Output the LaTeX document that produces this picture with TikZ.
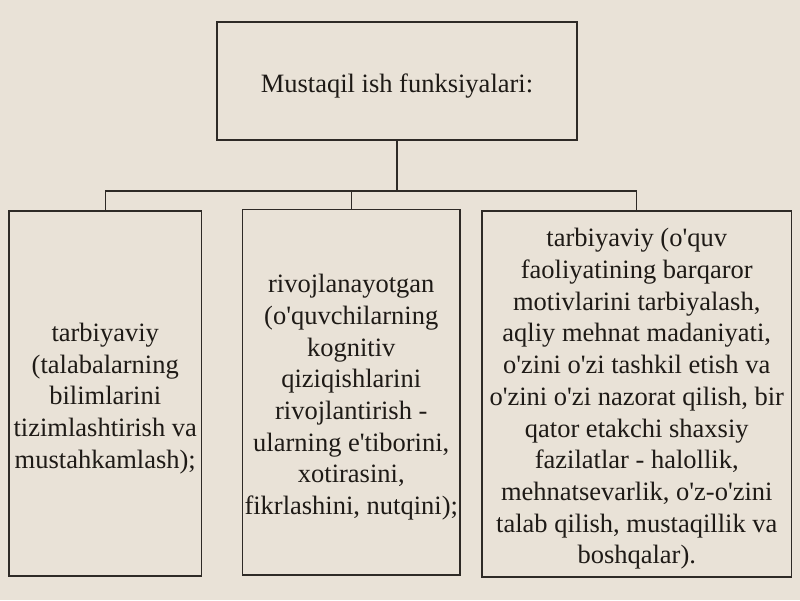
\documentclass[tikz,border=0pt]{standalone}
\usepackage{fontspec}
\setmainfont{Liberation Serif}
\newcommand\aq{\textquotesingle}
\definecolor{bg}{HTML}{E9E2D7}
\definecolor{ln}{HTML}{2E2A26}
\definecolor{tx}{HTML}{1E1A16}
\begin{document}
\begin{tikzpicture}[x=1pt,y=-1pt,
  box/.style={draw=ln, line width=1.2pt, inner sep=0pt},
  txt/.style={inner sep=0pt, align=center, text=tx, yshift=-5pt,
    font=\fontsize{26.5}{31.7}\selectfont},
  conn/.style={draw=ln, line width=1.2pt}]
\fill[bg] (0,0) rectangle (800,600);
\useasboundingbox (0,0) rectangle (800,600);
\node[box, minimum width=360pt, minimum height=118pt] (top) at (397,81) {};
\node[box, minimum width=192.5pt, minimum height=365pt] (left) at (105.25,393.5) {};
\node[box, minimum width=217.5pt, minimum height=365.5pt] (mid) at (351.25,392.25) {};
\node[box, minimum width=309.5pt, minimum height=366pt] (right) at (636.75,394) {};
\node[txt] (toptext) at (top.center) {Mustaqil ish funksiyalari:};
\node[txt] (lefttext) at (left.center)
  {tarbiyaviy\\(talabalarning\\bilimlarini\\tizimlashtirish va\\mustahkamlash);};
\node[txt] (midtext) at (mid.center)
  {rivojlanayotgan\\(o\aq quvchilarning\\kognitiv\\qiziqishlarini\\rivojlantirish -\\ularning e\aq tiborini,\\xotirasini,\\fikrlashini, nutqini);};
\node[txt] (righttext) at (right.center)
  {tarbiyaviy (o\aq quv\\faoliyatining barqaror\\motivlarini tarbiyalash,\\aqliy mehnat madaniyati,\\o\aq zini o\aq zi tashkil etish va\\o\aq zini o\aq zi nazorat qilish, bir\\qator etakchi shaxsiy\\fazilatlar - halollik,\\mehnatsevarlik, o\aq z-o\aq zini\\talab qilish, mustaqillik va\\boshqalar).};
\coordinate (j) at (397,191);
\draw[conn] (top.south) -- (j);
\draw[conn] (left.north) |- (j) -| (right.north);
\draw[conn] (mid.north) -- (mid.north |- j);
\end{tikzpicture}
\end{document}
